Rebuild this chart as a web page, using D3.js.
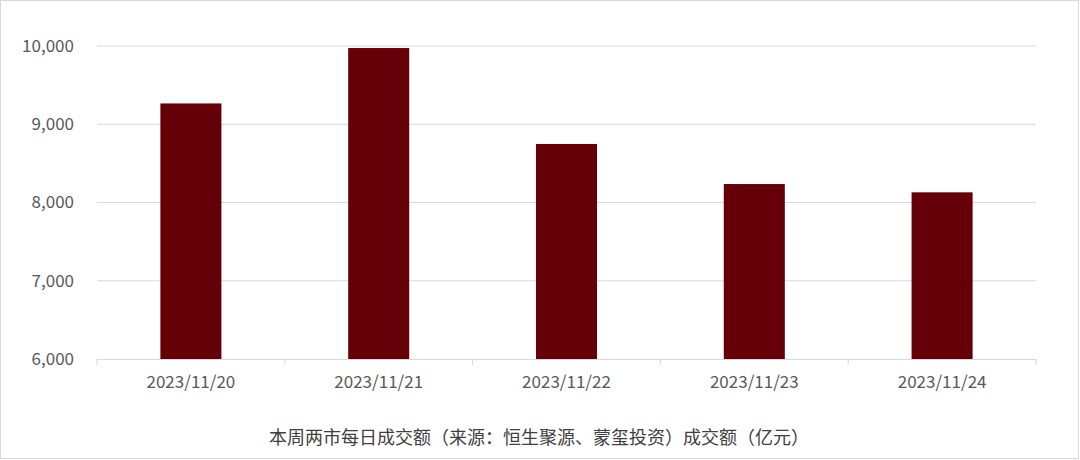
<!DOCTYPE html>
<html>
<head>
<meta charset="utf-8">
<script src="https://cdn.jsdelivr.net/npm/d3@7"></script>
<style>
  html, body { margin: 0; padding: 0; background: #fff; }
  #container { width: 1080px; height: 460px; }
</style>
</head>
<body>
<div id="container"></div>
<script>
const dates = ["2023/11/20", "2023/11/21", "2023/11/22", "2023/11/23", "2023/11/24"];
const turnover = [9266, 9974, 8748, 8236, 8130];
const yTicks = [6000, 7000, 8000, 9000, 10000];
const title = "本周两市每日成交额（来源：恒生聚源、蒙玺投资）成交额（亿元）";

const W = 1080, H = 460;
const margin = {top: 46, right: 44, bottom: 101, left: 97};
const width = W - margin.left - margin.right,
      height = H - margin.top - margin.bottom;
const font = "'Noto Sans CJK SC', 'Noto Sans', sans-serif";

const svg = d3.select("#container")
    .append("svg")
        .attr("width", W)
        .attr("height", H);

// 외곽 테두리
svg.append("rect")
    .attr("x", 0.5).attr("y", 0.5)
    .attr("width", W - 2).attr("height", H - 2)
    .attr("fill", "none")
    .attr("stroke", "#d9d9d9");

const g = svg.append("g")
    .attr("transform", `translate(${margin.left}, ${margin.top})`);

const x = d3.scaleBand()
    .domain(dates)
    .range([0, width])
    .paddingInner(0.675)
    .paddingOuter(0.3375);

const y = d3.scaleLinear()
    .domain([6000, 10000])
    .range([height, 0]);

// grid lines
g.append("g")
    .selectAll("line")
    .data(yTicks.filter(d => d !== 6000))
    .join("line")
    .attr("x1", 0).attr("x2", width)
    .attr("y1", d => y(d)).attr("y2", d => y(d))
    .attr("stroke", "#d9d9d9")
    .attr("stroke-width", 1);

// bars
g.append("g").selectAll("rect")
    .data(dates)
    .join("rect")
    .attr("x", d => x(d))
    .attr("y", (d, i) => y(turnover[i]))
    .attr("width", x.bandwidth())
    .attr("height", (d, i) => y(6000) - y(turnover[i]))
    .attr("fill", "#660008");

// y axis
const yAxis = g.append("g")
    .call(d3.axisLeft(y).tickValues(yTicks).tickFormat(d3.format(",")).tickSize(0).tickPadding(23));
yAxis.select(".domain").remove();
yAxis.selectAll("text")
    .style("font-family", font)
    .style("font-size", "17px")
    .attr("fill", "#595959");

// x axis
const bandStep = x.step();
const xAxis = g.append("g")
    .attr("transform", `translate(0, ${height})`)
    .call(d3.axisBottom(x).tickSize(0).tickPadding(17));
xAxis.select(".domain").attr("stroke", "#d9d9d9");
xAxis.selectAll("text")
    .style("font-family", font)
    .style("font-size", "17px")
    .attr("fill", "#595959");

// category separator ticks
g.append("g")
    .attr("transform", `translate(0, ${height})`)
    .selectAll("line")
    .data(d3.range(dates.length + 1))
    .join("line")
    .attr("x1", i => i * bandStep).attr("x2", i => i * bandStep)
    .attr("y1", 0).attr("y2", 6)
    .attr("stroke", "#d9d9d9");

// title
svg.append("text")
    .attr("x", 539)
    .attr("y", 444)
    .attr("text-anchor", "middle")
    .style("font-family", font)
    .style("font-size", "18px")
    .attr("fill", "#404040")
    .text(title);
</script>
</body>
</html>
